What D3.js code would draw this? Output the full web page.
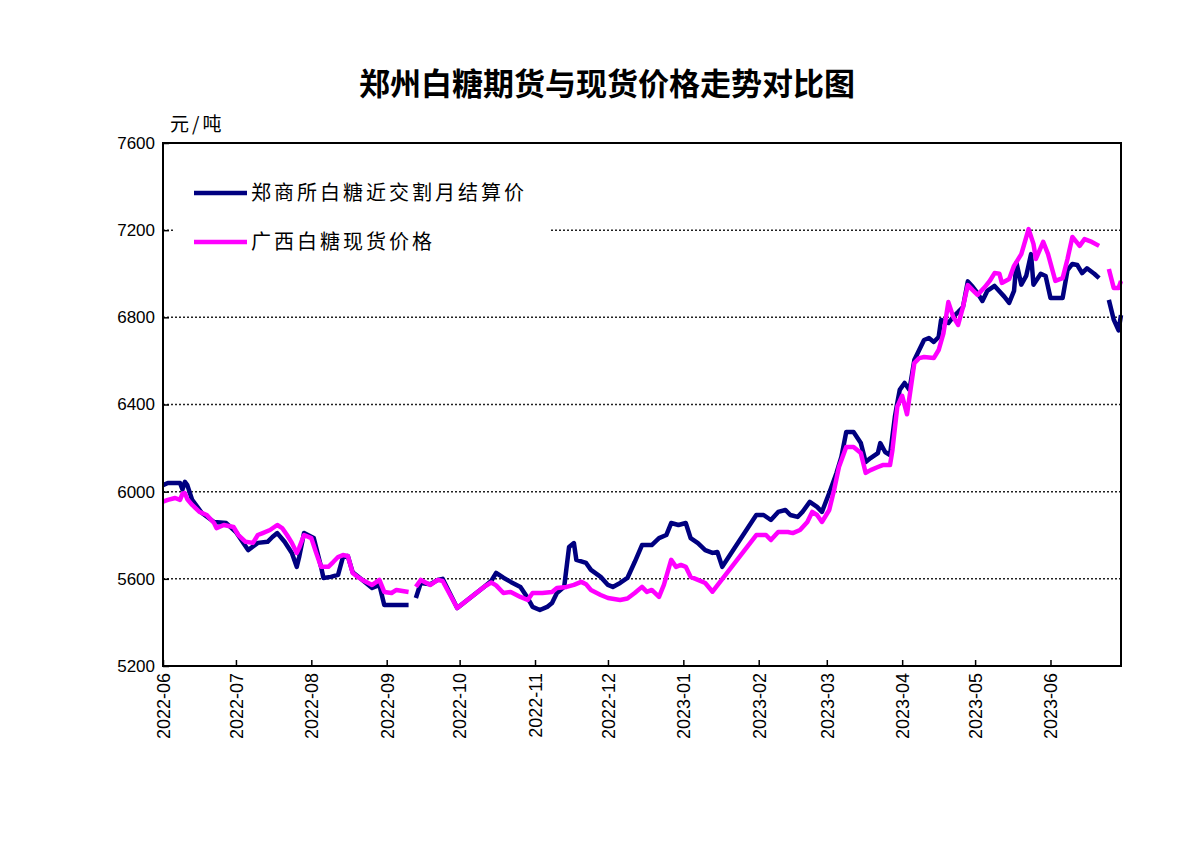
<!DOCTYPE html>
<html>
  <head>
    <meta charset="utf-8">
    <title>郑州白糖期货与现货价格走势对比图</title>
    <script src="https://d3js.org/d3.v7.min.js"></script>
    <style>
      body { margin: 0; background: #fff; }
      text { fill: #000; }
    </style>
  </head>
  <body>
    <script>
      // 郑商所白糖近交割月结算价 (null = holiday gap)
      var zceDates = ["2022-06-01","2022-06-03","2022-06-06","2022-06-08","2022-06-09","2022-06-10","2022-06-11","2022-06-13","2022-06-17","2022-06-22",
        "2022-06-27","2022-07-01","2022-07-06","2022-07-10","2022-07-14","2022-07-16","2022-07-18","2022-07-21","2022-07-24","2022-07-26",
        "2022-07-27","2022-07-29","2022-08-02","2022-08-05","2022-08-06","2022-08-09","2022-08-12","2022-08-14","2022-08-16","2022-08-18",
        "2022-08-22","2022-08-26","2022-08-29","2022-08-31","2022-09-05","2022-09-10","2022-09-11","2022-09-13","2022-09-15","2022-09-19",
        "2022-09-22","2022-09-24","2022-09-30","2022-10-11","2022-10-14","2022-10-16","2022-10-19","2022-10-22","2022-10-26","2022-10-29",
        "2022-10-31","2022-11-03","2022-11-06","2022-11-08","2022-11-10","2022-11-13","2022-11-15","2022-11-17","2022-11-18","2022-11-22",
        "2022-11-24","2022-11-28","2022-12-01","2022-12-03","2022-12-06","2022-12-09","2022-12-12","2022-12-15","2022-12-19","2022-12-22",
        "2022-12-25","2022-12-27","2022-12-30","2023-01-02","2023-01-04","2023-01-07","2023-01-10","2023-01-13","2023-01-15","2023-01-17",
        "2023-01-31","2023-02-03","2023-02-06","2023-02-09","2023-02-12","2023-02-14","2023-02-17","2023-02-19","2023-02-22","2023-02-25",
        "2023-02-27","2023-03-02","2023-03-05","2023-03-07","2023-03-09","2023-03-12","2023-03-15","2023-03-17","2023-03-19","2023-03-22",
        "2023-03-23","2023-03-25","2023-03-27","2023-03-29","2023-03-30","2023-03-31","2023-04-02","2023-04-04","2023-04-06","2023-04-08",
        "2023-04-10","2023-04-12","2023-04-14","2023-04-16","2023-04-17","2023-04-20","2023-04-22","2023-04-24","2023-04-26","2023-04-28",
        "2023-04-30","2023-05-02","2023-05-04","2023-05-06","2023-05-09","2023-05-13","2023-05-15","2023-05-17","2023-05-18","2023-05-20",
        "2023-05-22","2023-05-24","2023-05-25","2023-05-28","2023-05-30","2023-06-01","2023-06-04","2023-06-06","2023-06-08","2023-06-10",
        "2023-06-12","2023-06-14","2023-06-16","2023-06-19","2023-06-21","2023-06-23","2023-06-25","2023-06-27","2023-06-29","2023-06-30"];
      var zceValues = [6030,6040,6040,6040,6010,6045,6030,5962,5902,5861,
        5856,5815,5732,5765,5770,5792,5810,5770,5719,5655,
        5700,5810,5787,5655,5604,5609,5618,5700,5705,5630,
        5595,5558,5572,5480,5480,5480,null,5512,5581,5575,
        5595,5600,5466,5563,5590,5627,5605,5586,5563,5512,
        5471,5457,5471,5489,5535,5563,5746,5764,5687,5673,
        5641,5609,5572,5563,5581,5604,5677,5755,5755,5787,
        5801,5856,5847,5856,5787,5764,5732,5719,5723,5655,
        5893,5893,5870,5907,5916,5893,5884,5907,5953,5930,
        5907,5994,6086,6159,6274,6274,6223,6136,6154,6177,
        6223,6182,6168,6343,6407,6467,6499,6467,6604,6650,
        6696,6705,6687,6710,6788,6774,6802,6824,6847,6965,
        6940,6911,6875,6921,6944,6895,6866,6921,7050,6950,
        6990,7090,6950,7000,6990,6889,6889,6889,7017,7045,
        7040,7003,7025,7000,6980,null,6880,6790,6740,6810];

      // 广西白糖现货价格
      var gxDates = ["2022-06-01","2022-06-03","2022-06-06","2022-06-08","2022-06-09","2022-06-10","2022-06-11","2022-06-13","2022-06-16","2022-06-19",
        "2022-06-22","2022-06-23","2022-06-26","2022-06-30","2022-07-02","2022-07-05","2022-07-08","2022-07-10","2022-07-12","2022-07-15",
        "2022-07-18","2022-07-20","2022-07-22","2022-07-24","2022-07-26","2022-07-27","2022-07-29","2022-08-01","2022-08-03","2022-08-05",
        "2022-08-08","2022-08-10","2022-08-12","2022-08-14","2022-08-16","2022-08-18","2022-08-20","2022-08-22","2022-08-26","2022-08-29",
        "2022-08-31","2022-09-03","2022-09-05","2022-09-10","2022-09-11","2022-09-13","2022-09-15","2022-09-19","2022-09-22","2022-09-24",
        "2022-09-30","2022-10-11","2022-10-14","2022-10-16","2022-10-19","2022-10-22","2022-10-26","2022-10-29","2022-10-31","2022-11-04",
        "2022-11-08","2022-11-10","2022-11-14","2022-11-17","2022-11-20","2022-11-22","2022-11-24","2022-11-28","2022-12-01","2022-12-06",
        "2022-12-09","2022-12-12","2022-12-15","2022-12-17","2022-12-19","2022-12-22","2022-12-24","2022-12-27","2022-12-29","2022-12-31",
        "2023-01-02","2023-01-04","2023-01-07","2023-01-10","2023-01-13","2023-01-31","2023-02-04","2023-02-06","2023-02-09","2023-02-13",
        "2023-02-15","2023-02-18","2023-02-21","2023-02-23","2023-02-25","2023-02-27","2023-03-02","2023-03-04","2023-03-06","2023-03-09",
        "2023-03-12","2023-03-15","2023-03-17","2023-03-19","2023-03-22","2023-03-24","2023-03-27","2023-03-28","2023-03-30","2023-04-01",
        "2023-04-03","2023-04-06","2023-04-08","2023-04-10","2023-04-14","2023-04-16","2023-04-18","2023-04-20","2023-04-22","2023-04-24",
        "2023-04-26","2023-04-28","2023-04-30","2023-05-02","2023-05-05","2023-05-07","2023-05-09","2023-05-11","2023-05-12","2023-05-15",
        "2023-05-17","2023-05-20","2023-05-23","2023-05-25","2023-05-26","2023-05-29","2023-05-31","2023-06-03","2023-06-06","2023-06-08",
        "2023-06-10","2023-06-13","2023-06-15","2023-06-18","2023-06-21","2023-06-23","2023-06-25","2023-06-27","2023-06-29","2023-06-30"];
      var gxValues = [5954,5962,5971,5962,5990,5994,5965,5939,5907,5893,
        5856,5833,5847,5838,5801,5770,5765,5801,5810,5824,
        5847,5833,5801,5765,5719,5742,5801,5787,5719,5655,
        5655,5677,5700,5709,5705,5627,5609,5595,5572,5595,
        5540,5535,5549,5540,null,5563,5595,5572,5595,5590,
        5466,5563,5583,5570,5535,5540,5517,5503,5535,5535,
        5540,5558,5563,5572,5586,5575,5549,5526,5512,5503,
        5510,5535,5563,5540,5549,5517,5572,5687,5655,5664,
        5655,5609,5595,5581,5541,5801,5801,5778,5815,5815,
        5810,5824,5861,5907,5893,5861,5916,6008,6113,6205,
        6205,6177,6086,6099,6113,6122,6122,6191,6390,6440,
        6355,6590,6613,6618,6613,6650,6728,6870,6802,6765,
        6847,6948,6925,6903,6939,6967,7003,7000,6958,6976,
        7036,7090,7205,7137,7068,7146,7090,6967,6980,7068,
        7169,7128,7159,7146,7128,null,7022,6935,6935,6967];

      var yTicks = [5200, 5600, 6000, 6400, 6800, 7200, 7600];
      var xTicks = ["2022-06-01","2022-07-01","2022-08-01","2022-09-01","2022-10-01","2022-11-01","2022-12-01",
        "2023-01-01","2023-02-01","2023-03-01","2023-04-01","2023-05-01","2023-06-01"];

      var parse = d3.timeParse("%Y-%m-%d");
      var zce = zceDates.map(function(d, i) { return { date: parse(d), value: zceValues[i] }; });
      var gx  = gxDates.map(function(d, i) { return { date: parse(d), value: gxValues[i] }; });

      var plotLeft = 163, plotRight = 1121, plotTop = 143, plotBottom = 666;

      var svg = d3.select("body").append("svg")
        .attr("width", 1200)
        .attr("height", 867)
        .style("font-family", "'Liberation Sans', Arial, sans-serif");

      var xScale = d3.scaleTime()
        .domain([parse("2022-06-01"), parse("2023-06-30")])
        .range([plotLeft, plotRight]);
      var yScale = d3.scaleLinear().domain([5200, 7600]).range([plotBottom, plotTop]);

      // title
      svg.append("text")
        .attr("x", 607).attr("y", 95)
        .attr("text-anchor", "middle")
        .style("font-family", "'Noto Sans CJK SC', sans-serif")
        .style("font-size", "31px")
        .style("font-weight", "bold")
        .text("郑州白糖期货与现货价格走势对比图");

      svg.append("text")
        .attr("x", 170).attr("y", 131)
        .style("font-family", "'Noto Sans CJK SC', sans-serif")
        .style("font-size", "19px")
        .style("letter-spacing", "3px")
        .text("元/吨");

      // gridlines
      svg.append("g").selectAll("line")
        .data(yTicks.slice(1, -1))
        .enter().append("line")
          .attr("x1", plotLeft).attr("x2", plotRight)
          .attr("y1", function(d) { return yScale(d); })
          .attr("y2", function(d) { return yScale(d); })
          .attr("stroke", "#222")
          .attr("stroke-width", 1.5)
          .attr("stroke-dasharray", "2,2");

      // axes
      var yAxis = svg.append("g")
        .attr("transform", "translate(" + plotLeft + ",0)")
        .call(d3.axisLeft(yScale).tickValues(yTicks).tickSize(-6).tickPadding(8).tickFormat(d3.format("d")));
      yAxis.select(".domain").remove();
      yAxis.selectAll("text").style("font-size", "17px").style("font-family", "'Liberation Sans', Arial, sans-serif");

      var xAxis = svg.append("g")
        .attr("transform", "translate(0," + plotBottom + ")")
        .call(d3.axisBottom(xScale).tickValues(xTicks.map(parse)).tickSize(-6).tickFormat(d3.timeFormat("%Y-%m")));
      xAxis.select(".domain").remove();
      xAxis.selectAll("text")
        .attr("transform", "rotate(-90)")
        .attr("text-anchor", "end")
        .attr("x", -7)
        .attr("y", 0)
        .attr("dy", "0.35em")
        .style("font-size", "18px")
        .style("font-family", "'Liberation Sans', Arial, sans-serif");
      svg.selectAll(".tick line").attr("stroke", "#000").attr("stroke-width", 1.5);

      // lines
      var line = d3.line()
        .defined(function(d) { return d.value != null; })
        .x(function(d) { return xScale(d.date); })
        .y(function(d) { return yScale(d.value); });

      svg.append("path").datum(zce)
        .attr("d", line)
        .attr("fill", "none")
        .attr("stroke", "#000080")
        .attr("stroke-width", 4.5)
        .attr("stroke-linejoin", "round");

      svg.append("path").datum(gx)
        .attr("d", line)
        .attr("fill", "none")
        .attr("stroke", "#ff00ff")
        .attr("stroke-width", 4.5)
        .attr("stroke-linejoin", "round");

      // legend
      var legend = svg.append("g");
      legend.append("rect")
        .attr("x", 175).attr("y", 165).attr("width", 376).attr("height", 100)
        .attr("fill", "#fff");
      var items = [
        { name: "郑商所白糖近交割月结算价", color: "#000080", y: 193 },
        { name: "广西白糖现货价格", color: "#ff00ff", y: 242 }
      ];
      items.forEach(function(it) {
        legend.append("line")
          .attr("x1", 194).attr("x2", 247)
          .attr("y1", it.y).attr("y2", it.y)
          .attr("stroke", it.color).attr("stroke-width", 4.5);
        legend.append("text")
          .attr("x", 251).attr("y", it.y + 7)
          .style("font-family", "'Noto Sans CJK SC', sans-serif")
          .style("font-size", "20px")
          .style("letter-spacing", "3px")
          .text(it.name);
      });

      // plot frame
      svg.append("rect")
        .attr("x", plotLeft).attr("y", plotTop)
        .attr("width", plotRight - plotLeft).attr("height", plotBottom - plotTop)
        .attr("fill", "none")
        .attr("stroke", "#000")
        .attr("stroke-width", 2);
    </script>
  </body>
</html>
